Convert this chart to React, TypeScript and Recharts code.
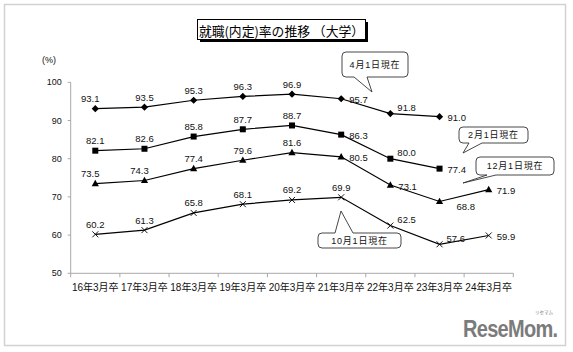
import React from "react";
import { LineChart, Line, XAxis, YAxis, LabelList } from "recharts";

const categories = [
  "16年3月卒",
  "17年3月卒",
  "18年3月卒",
  "19年3月卒",
  "20年3月卒",
  "21年3月卒",
  "22年3月卒",
  "23年3月卒",
  "24年3月卒",
];
const april = [93.1, 93.5, 95.3, 96.3, 96.9, 95.7, 91.8, 91.0, null];
const february = [82.1, 82.6, 85.8, 87.7, 88.7, 86.3, 80.0, 77.4, null];
const december = [73.5, 74.3, 77.4, 79.6, 81.6, 80.5, 73.1, 68.8, 71.9];
const october = [60.2, 61.3, 65.8, 68.1, 69.2, 69.9, 62.5, 57.6, 59.9];
const yTicks = [50, 60, 70, 80, 90, 100];

// where each value label sits relative to its point
const aprilPlace = ["tl", "t", "t", "t", "t", "r", "tr", "r", ""];
const februaryPlace = ["t", "t", "t", "t", "t", "r", "tr", "r", ""];
const decemberPlace = ["tl", "tl", "t", "t", "t", "r", "r", "br", "r"];
const octoberPlace = ["t", "t", "t", "t", "t", "t", "tr", "tr", "r"];

const data = categories.map((name, i) => ({
  name,
  april: april[i],
  february: february[i],
  december: december[i],
  october: october[i],
}));

const W = 573;
const H = 352;
const PLOT_LEFT = 70.7;
const PLOT_RIGHT = 513.3;
const PLOT_TOP = 82.3;
const PLOT_BOTTOM = 273.3;
const Y_AXIS_W = 40;
const X_AXIS_H = 30;
const BAND = (PLOT_RIGHT - PLOT_LEFT) / categories.length;

const NUM_FONT = "'Liberation Sans', Arial, 'Noto Sans CJK JP', sans-serif";
const AXIS_COLOR = "#a8a8a8";

const offsets: Record<string, { dx: number; dy: number; anchor: "middle" | "start" }> = {
  t: { dx: 0, dy: -10, anchor: "middle" },
  tl: { dx: -5, dy: -10, anchor: "middle" },
  r: { dx: 8, dy: 1, anchor: "start" },
  tr: { dx: 7, dy: -6, anchor: "start" },
  br: { dx: 17, dy: 5, anchor: "start" },
};

const makeLabel = (places: string[]) => (props: any) => {
  const { x, y, value, index } = props;
  if (value == null || x == null || y == null) return null;
  const o = offsets[places[index]] || offsets.t;
  return (
    <text
      x={x + o.dx}
      y={y + o.dy}
      textAnchor={o.anchor}
      dominantBaseline="central"
      fontSize={9.5}
      fontFamily={NUM_FONT}
      fill="#111"
    >
      {Number(value).toFixed(1)}
    </text>
  );
};

const makeDot = (shape: string) => (props: any) => {
  const { cx, cy, index } = props;
  const key = `${shape}-${index}`;
  if (cx == null || cy == null || props.value == null) return <g key={key} />;
  if (shape === "diamond") {
    const s = 3.6;
    return (
      <polygon
        key={key}
        points={`${cx},${cy - s} ${cx + s},${cy} ${cx},${cy + s} ${cx - s},${cy}`}
        fill="#000"
      />
    );
  }
  if (shape === "square") {
    return <rect key={key} x={cx - 3} y={cy - 3} width={6} height={6} fill="#000" />;
  }
  if (shape === "triangle") {
    return (
      <polygon
        key={key}
        points={`${cx},${cy - 3.8} ${cx + 3.6},${cy + 2.6} ${cx - 3.6},${cy + 2.6}`}
        fill="#000"
      />
    );
  }
  return (
    <g key={key} stroke="#000" strokeWidth={0.9}>
      <line x1={cx - 3} y1={cy - 3} x2={cx + 3} y2={cy + 3} />
      <line x1={cx - 3} y1={cy + 3} x2={cx + 3} y2={cy - 3} />
    </g>
  );
};

const XTick = (props: any) => {
  const { x, payload, index } = props;
  const left = x - BAND / 2;
  return (
    <g>
      <line x1={left} y1={PLOT_BOTTOM} x2={left} y2={PLOT_BOTTOM + 4} stroke={AXIS_COLOR} />
      {index === categories.length - 1 && (
        <line
          x1={left + BAND}
          y1={PLOT_BOTTOM}
          x2={left + BAND}
          y2={PLOT_BOTTOM + 4}
          stroke={AXIS_COLOR}
        />
      )}
      <text
        x={x}
        y={PLOT_BOTTOM + 14}
        textAnchor="middle"
        dominantBaseline="central"
        fontSize={10}
        fontFamily={NUM_FONT}
        fill="#111"
      >
        {payload.value}
      </text>
    </g>
  );
};

// rounded speech bubble with a tail on the top or bottom edge
function bubble(
  x1: number,
  y1: number,
  x2: number,
  y2: number,
  r: number,
  side: "top" | "bottom",
  a: number,
  b: number,
  tx: number,
  ty: number
) {
  let d = `M${x1 + r},${y1}`;
  if (side === "top") d += ` L${a},${y1} L${tx},${ty} L${b},${y1}`;
  d += ` L${x2 - r},${y1} Q${x2},${y1} ${x2},${y1 + r} L${x2},${y2 - r} Q${x2},${y2} ${x2 - r},${y2}`;
  if (side === "bottom") d += ` L${b},${y2} L${tx},${ty} L${a},${y2}`;
  d += ` L${x1 + r},${y2} Q${x1},${y2} ${x1},${y2 - r} L${x1},${y1 + r} Q${x1},${y1} ${x1 + r},${y1} Z`;
  return d;
}

const callouts = [
  { text: "4月1日現在", box: [342, 52, 408, 77], side: "bottom", a: 354, b: 367, tx: 372, ty: 92 },
  { text: "2月1日現在", box: [459, 127, 528, 143], side: "bottom", a: 469, b: 482, tx: 463, ty: 153 },
  { text: "12月1日現在", box: [476, 157, 554, 175], side: "bottom", a: 487, b: 496, tx: 463, ty: 183 },
  { text: "10月1日現在", box: [318, 233, 401, 248], side: "top", a: 335, b: 353, tx: 341, ty: 211 },
];

const Overlay = () => (
  <svg
    width={W}
    height={H}
    style={{ position: "absolute", left: 0, top: 0, pointerEvents: "none" }}
  >
    <rect x={4.5} y={4.5} width={561} height={341} fill="none" stroke="#d2d2d2" strokeWidth={1.5} />
    <rect x={200} y={22} width={168} height={20} fill="#000" />
    <rect x={197.5} y={19.5} width={168} height={20} fill="#fff" stroke="#000" strokeWidth={1} />
    <text
      x={281.5}
      y={30}
      textAnchor="middle"
      dominantBaseline="central"
      fontSize={12.8}
      fontFamily="'Noto Sans CJK JP', sans-serif"
      fill="#000"
    >
      就職(内定)率の推移 （大学）
    </text>
    <text
      x={49}
      y={60}
      textAnchor="middle"
      dominantBaseline="central"
      fontSize={9}
      fontFamily={NUM_FONT}
      fill="#111"
    >
      (%)
    </text>
    {callouts.map((c) => {
      const [x1, y1, x2, y2] = c.box;
      return (
        <g key={c.text}>
          <path
            d={bubble(x1, y1, x2, y2, 4, c.side as any, c.a, c.b, c.tx, c.ty)}
            fill="#fff"
            stroke="#333"
            strokeWidth={0.9}
          />
          <text
            x={(x1 + x2) / 2}
            y={(y1 + y2) / 2}
            textAnchor="middle"
            dominantBaseline="central"
            fontSize={9}
            fontFamily={NUM_FONT}
            letterSpacing={0.8}
            fill="#111"
          >
            {c.text}
          </text>
        </g>
      );
    })}
    <g transform="translate(463,337) scale(1,1.2)">
      <text
        x={0}
        y={0}
        fontSize={20}
        fontWeight="bold"
        fontFamily="'Liberation Sans', Arial, sans-serif"
        letterSpacing={-0.7}
        fill="#7b7b7b"
      >
        ReseMom.
      </text>
    </g>
    <text
      x={535}
      y={314}
      fontSize={4.5}
      fontFamily="'Noto Sans CJK JP', sans-serif"
      fill="#7b7b7b"
    >
      リセマム
    </text>
  </svg>
);

export default function App() {
  return (
    <div
      style={{
        position: "absolute",
        left: 0,
        top: 0,
        width: W,
        height: H,
        background: "#fff",
      }}
    >
      <LineChart
        width={W}
        height={H}
        data={data}
        margin={{
          top: PLOT_TOP,
          right: W - PLOT_RIGHT,
          bottom: H - PLOT_BOTTOM - X_AXIS_H,
          left: PLOT_LEFT - Y_AXIS_W,
        }}
      >
        <XAxis
          dataKey="name"
          height={X_AXIS_H}
          interval={0}
          padding={{ left: BAND / 2, right: BAND / 2 }}
          tickLine={false}
          axisLine={{ stroke: AXIS_COLOR }}
          tick={<XTick />}
        />
        <YAxis
          width={Y_AXIS_W}
          domain={[50, 100]}
          ticks={yTicks}
          interval={0}
          tickSize={3}
          tickMargin={6}
          axisLine={{ stroke: AXIS_COLOR }}
          tickLine={{ stroke: AXIS_COLOR }}
          tick={{ fontSize: 9, fontFamily: NUM_FONT, fill: "#111" }}
        />
        <Line
          dataKey="april"
          stroke="#000"
          strokeWidth={1.2}
          dot={makeDot("diamond")}
          isAnimationActive={false}
        >
          <LabelList dataKey="april" content={makeLabel(aprilPlace)} />
        </Line>
        <Line
          dataKey="february"
          stroke="#000"
          strokeWidth={1.2}
          dot={makeDot("square")}
          isAnimationActive={false}
        >
          <LabelList dataKey="february" content={makeLabel(februaryPlace)} />
        </Line>
        <Line
          dataKey="december"
          stroke="#000"
          strokeWidth={1.2}
          dot={makeDot("triangle")}
          isAnimationActive={false}
        >
          <LabelList dataKey="december" content={makeLabel(decemberPlace)} />
        </Line>
        <Line
          dataKey="october"
          stroke="#000"
          strokeWidth={1.2}
          dot={makeDot("cross")}
          isAnimationActive={false}
        >
          <LabelList dataKey="october" content={makeLabel(octoberPlace)} />
        </Line>
      </LineChart>
      <Overlay />
    </div>
  );
}
